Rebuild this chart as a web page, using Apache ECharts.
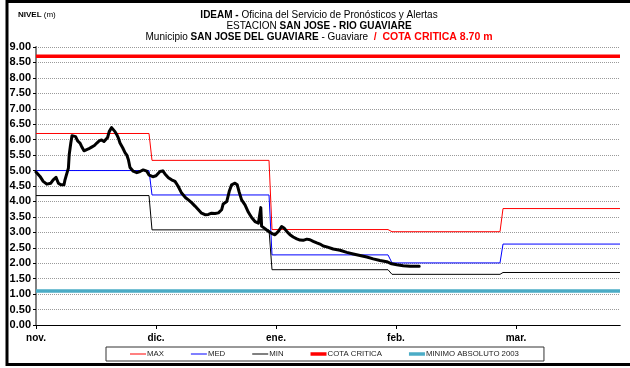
<!DOCTYPE html>
<html>
<head>
<meta charset="utf-8">
<script src="https://cdn.jsdelivr.net/npm/echarts@6/dist/echarts.min.js"></script>
<style>
  html, body { margin: 0; padding: 0; background: #fff; }
  #chart { width: 630px; height: 368px; }
</style>
</head>
<body>
<div id="chart"></div>
<script>
// Month ticks along the day axis (day 0 = 1 nov.)
const monthLabels = ['nov.', 'dic.', 'ene.', 'feb.', 'mar.'];
const monthTicks = [0, 30, 60, 90, 120];
const dayRange = [0, 146];

// Historical reference levels (m), step changes at month boundaries
const stepDays = [0, 28.25, 29, 58.25, 59, 88, 89, 116, 116.75, 146];
const maxVals  = [6.20, 6.20, 5.33, 5.33, 3.09, 3.09, 3.02, 3.02, 3.77, 3.77];
const medVals  = [5.00, 5.00, 4.21, 4.21, 2.27, 2.27, 2.01, 2.01, 2.62, 2.62];
const minVals  = [4.19, 4.19, 3.08, 3.08, 1.79, 1.79, 1.64, 1.64, 1.70, 1.70];

const cotaCritica = 8.70;
const minimoAbsoluto = 1.10;

// Observed river level (m)
const nivelDays = [0, 1, 1.8, 2.7, 3.1, 3.7, 4.3, 5, 5.3, 5.6, 6.2, 6.7, 7, 7.25, 7.5, 7.8, 8.1, 8.3, 8.7, 9,
  9.5, 9.9, 10.4, 11, 11.4, 12, 12.5, 13.1, 13.9, 14.6, 15.2, 15.8, 16.4, 17, 17.5, 17.9, 18.3, 18.9, 19.3, 19.75,
  20.2, 20.6, 21, 21.7, 22.25, 22.7, 23.1, 23.5, 24.3, 25.2, 26, 26.8, 27.7, 28.3, 29.2, 30, 31, 31.7, 32.25, 33.1,
  33.9, 34.75, 35.5, 36.4, 37.4, 38.1, 38.9, 39.75, 40.6, 41.4, 42.25, 43.1, 43.9, 44.75, 45.6, 46.4, 46.8, 47.7, 48.3, 48.9,
  49.75, 50.3, 50.8, 51.4, 52.25, 53.1, 53.9, 54.75, 55.6, 55.8, 56.2, 56.4, 57.25, 58.1, 58.9, 59.75, 60.6, 61.4, 62, 62.7,
  63.5, 64.3, 65.2, 66, 66.8, 67.7, 68.5, 69.3, 70.2, 71, 71.8, 72.7, 74.3, 76, 77.7, 79.3, 81, 82.7, 84.3, 86,
  87.7, 88.9, 90.2, 91.8, 93.5, 95.8];
const nivelVals = [4.95, 4.81, 4.65, 4.56, 4.54, 4.59, 4.70, 4.78, 4.73, 4.59, 4.54, 4.51, 4.54, 4.70, 4.81, 4.86, 5.08, 5.51, 5.89, 6.13,
  6.18, 6.10, 5.96, 5.89, 5.78, 5.64, 5.62, 5.70, 5.76, 5.81, 5.89, 5.96, 5.99, 5.94, 5.96, 6.07, 6.26, 6.39, 6.40, 6.26,
  6.16, 6.05, 5.89, 5.73, 5.58, 5.50, 5.35, 5.10, 4.98, 4.93, 4.97, 5.02, 4.98, 4.85, 4.80, 4.83, 4.97, 4.99, 4.89, 4.77,
  4.70, 4.65, 4.50, 4.27, 4.12, 4.05, 3.96, 3.85, 3.73, 3.62, 3.57, 3.58, 3.62, 3.61, 3.63, 3.73, 3.92, 4.00, 4.32, 4.54,
  4.59, 4.54, 4.30, 4.05, 3.89, 3.65, 3.48, 3.35, 3.30, 3.25, 3.80, 3.20, 3.12, 3.03, 2.97, 2.92, 3.03, 3.19, 3.14, 3.03,
  2.92, 2.85, 2.79, 2.75, 2.74, 2.78, 2.76, 2.71, 2.66, 2.62, 2.56, 2.53, 2.46, 2.42, 2.35, 2.30, 2.25, 2.20, 2.14, 2.09,
  2.05, 1.98, 1.95, 1.92, 1.90, 1.90];

const FONT = 'Liberation Sans';
const pairs = (xs, ys) => xs.map((x, i) => [x, ys[i]]);
const flat = v => dayRange.map(d => [d, v]);

const thinIcon = 'path://M0,0H16V1H0Z';
const thickIcon = 'path://M0,0H16V3.5H0Z';

const titleRich = {
  b: { fontFamily: FONT, fontSize: 10, fontWeight: 'bold', color: '#000' },
  n: { fontFamily: FONT, fontSize: 10, fontWeight: 'normal', color: '#000' },
  r: { fontFamily: FONT, fontSize: 10.5, fontWeight: 'bold', color: '#ff0000' },
  s: { fontFamily: FONT, fontSize: 8, fontWeight: 'bold', color: '#000' },
  t: { fontFamily: FONT, fontSize: 8, fontWeight: 'normal', color: '#000' }
};
const titleText = size => ({ fontFamily: FONT, fontSize: size, fontWeight: 'normal', color: '#000', rich: titleRich });

const chart = echarts.init(document.getElementById('chart'), null, { renderer: 'canvas' });
chart.setOption({
  animation: false,
  backgroundColor: '#fff',
  title: [
    { text: '{s|NIVEL} {t|(m)}', left: 18, top: 11, padding: 0, textStyle: titleText(8) },
    { text: '{b|IDEAM -} {n|Oficina del Servicio de Pronósticos y Alertas}', left: 319, top: 10, padding: 0, textAlign: 'center', textStyle: titleText(10) },
    { text: '{n|ESTACION }{b|SAN JOSE - RIO GUAVIARE}', left: 319, top: 21, padding: 0, textAlign: 'center', textStyle: titleText(10) },
    { text: '{n|Municipio }{b|SAN JOSE DEL GUAVIARE}{n| - Guaviare  }{r|/  COTA CRITICA 8.70 m}', left: 319, top: 32, padding: 0, textAlign: 'center', textStyle: titleText(10) }
  ],
  grid: { left: 36, right: 10, top: 47, bottom: 43, containLabel: false },
  xAxis: [{
    type: 'value', min: dayRange[0], max: dayRange[1],
    axisLine: { lineStyle: { color: '#000', width: 1 } },
    axisTick: { show: true, length: 4, customValues: monthTicks, lineStyle: { color: '#000' } },
    axisLabel: {
      customValues: monthTicks, margin: 8,
      formatter: v => { const i = monthTicks.indexOf(v); return i >= 0 ? monthLabels[i] : ''; },
      fontFamily: FONT, fontSize: 10, fontWeight: 'bold', color: '#000'
    },
    splitLine: { show: false }
  }, {
    type: 'value', position: 'top', min: dayRange[0], max: dayRange[1],
    axisLine: { lineStyle: { color: '#000', width: 1 } },
    axisTick: { show: false }, axisLabel: { show: false }, splitLine: { show: false }
  }],
  yAxis: [{
    type: 'value', min: 0, max: 9, interval: 0.5,
    axisLine: { show: true, lineStyle: { color: '#000', width: 1 } },
    axisTick: { show: true, inside: false, length: 3, lineStyle: { color: '#000' } },
    axisLabel: {
      margin: 5, formatter: v => v.toFixed(2),
      fontFamily: FONT, fontSize: 11, fontWeight: 'bold', color: '#000'
    },
    splitLine: { show: true, lineStyle: { color: '#9a9a9a', width: 1, type: [1, 1] } }
  }, {
    type: 'value', position: 'right', min: 0, max: 9,
    axisLine: { show: true, lineStyle: { color: '#808080', width: 2 } },
    axisTick: { show: false }, axisLabel: { show: false }, splitLine: { show: false }
  }],
  legend: {
    left: 106, top: 347,
    padding: [3, 25, 3, 24],
    itemGap: 27, itemWidth: 16, itemHeight: 9,
    borderColor: '#333', borderWidth: 1, backgroundColor: '#fff',
    itemStyle: { borderWidth: 0 },
    textStyle: { fontFamily: FONT, fontSize: 7.8, color: '#222', padding: [0, 0, 0, -4] },
    data: [
      { name: 'MAX', icon: thinIcon },
      { name: 'MED', icon: thinIcon },
      { name: 'MIN', icon: thinIcon },
      { name: 'COTA CRITICA', icon: thickIcon },
      { name: 'MINIMO ABSOLUTO 2003', icon: thickIcon }
    ]
  },
  graphic: [{
    type: 'rect', silent: true, z: 100,
    shape: { x: 7, y: 1.5, width: 640, height: 363 },
    style: { fill: 'none', stroke: '#000', lineWidth: 3 }
  }],
  series: [
    { name: 'MAX', type: 'line', symbol: 'none', color: '#ff0000',
      lineStyle: { color: '#ff0000', width: 1 }, data: pairs(stepDays, maxVals) },
    { name: 'MED', type: 'line', symbol: 'none', color: '#0000ff',
      lineStyle: { color: '#0000ff', width: 1 }, data: pairs(stepDays, medVals) },
    { name: 'MIN', type: 'line', symbol: 'none', color: '#000000',
      lineStyle: { color: '#000000', width: 1 }, data: pairs(stepDays, minVals) },
    { name: 'COTA CRITICA', type: 'line', symbol: 'none', color: '#ff0000',
      lineStyle: { color: '#ff0000', width: 3.5 }, data: flat(cotaCritica) },
    { name: 'MINIMO ABSOLUTO 2003', type: 'line', symbol: 'none', color: '#4bacc6',
      lineStyle: { color: '#4bacc6', width: 3.5 }, data: flat(minimoAbsoluto) },
    { name: 'NIVEL', type: 'line', symbol: 'none', color: '#000000', z: 5,
      lineStyle: { color: '#000000', width: 3, join: 'round', cap: 'round' },
      data: pairs(nivelDays, nivelVals) }
  ]
});
</script>
</body>
</html>
